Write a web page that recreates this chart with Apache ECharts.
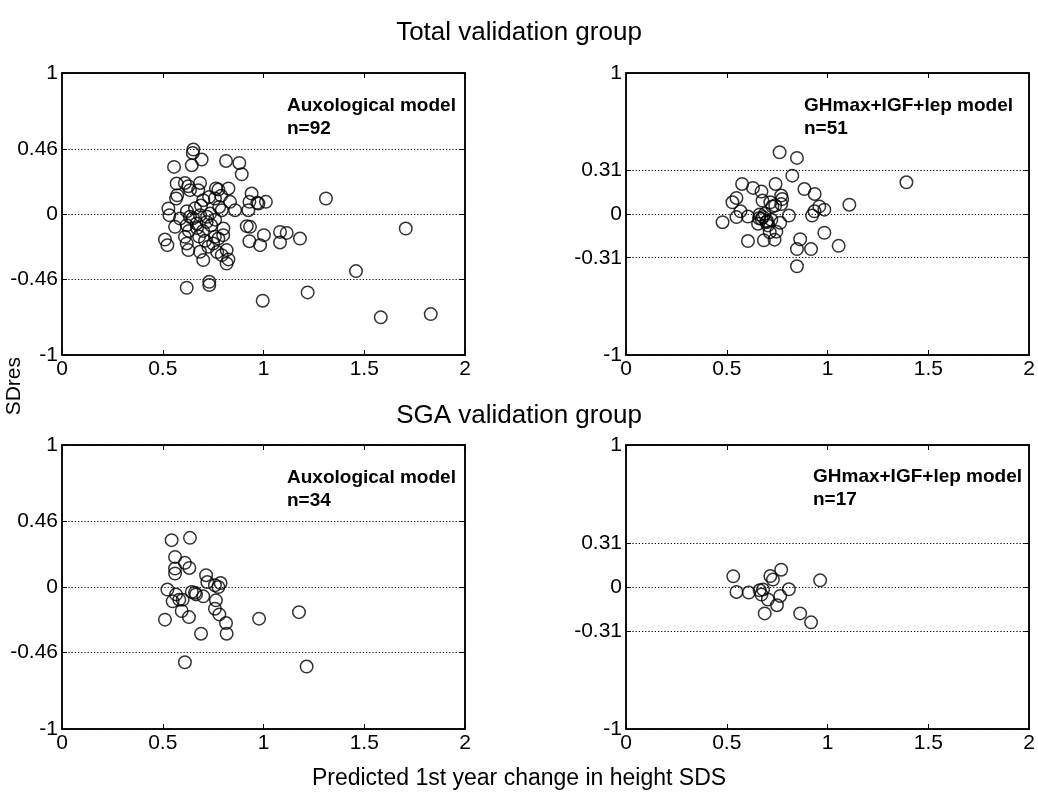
<!DOCTYPE html>
<html>
<head>
<meta charset="utf-8">
<title>SDres validation</title>
<script src="https://cdn.jsdelivr.net/npm/echarts@6/dist/echarts.min.js"></script>
<style>
  html, body { margin: 0; padding: 0; background: #fff; }
  #main { width: 1038px; height: 794px; }
</style>
</head>
<body>
<div id="main"></div>
<script>
// y tick positions for each model
var auxoTicks = [-1, -0.46, 0, 0.46, 1];
var hormTicks = [-1, -0.31, 0, 0.31, 1];

// total group, auxological model (n=92) : [predicted, SDres]
var totalAuxo = [
  [0.652, 0.457], [0.649, 0.433], [0.693, 0.386], [0.556, 0.334], [0.644, 0.346],
  [0.814, 0.376], [0.880, 0.362], [0.892, 0.282], [0.569, 0.216], [0.610, 0.220],
  [0.627, 0.197], [0.685, 0.220], [0.572, 0.133], [0.566, 0.110], [0.635, 0.169],
  [0.676, 0.169], [0.764, 0.181], [0.776, 0.173], [0.826, 0.181], [0.701, 0.098],
  [0.759, 0.110], [0.834, 0.086], [0.941, 0.145], [0.930, 0.086], [0.975, 0.074],
  [1.012, 0.086], [0.528, 0.039], [0.533, -0.008], [0.586, -0.032], [0.635, -0.020],
  [0.685, -0.008], [0.735, 0.003], [0.793, 0.027], [0.859, 0.027], [0.925, 0.027],
  [0.561, -0.091], [0.619, -0.079], [0.668, -0.067], [0.718, -0.056], [0.801, -0.103],
  [0.917, -0.086], [0.511, -0.181], [0.523, -0.221], [0.610, -0.162], [0.619, -0.209],
  [0.627, -0.256], [0.685, -0.268], [0.701, -0.327], [0.726, -0.233], [0.759, -0.162],
  [0.776, -0.174], [0.793, -0.292], [0.817, -0.351], [0.826, -0.322], [0.817, -0.256],
  [0.930, -0.193], [0.983, -0.221], [1.002, -0.150], [0.619, -0.523], [0.731, -0.481],
  [0.731, -0.504], [0.996, -0.615], [0.969, 0.079], [1.310, 0.110], [0.933, -0.091],
  [1.082, -0.127], [1.115, -0.134], [1.082, -0.202], [1.181, -0.174], [1.706, -0.103],
  [1.459, -0.405], [1.219, -0.556], [1.582, -0.733], [1.830, -0.710], [0.650, -0.030],
  [0.670, -0.100], [0.700, -0.120], [0.720, -0.020], [0.740, -0.080], [0.760, -0.040],
  [0.780, 0.050], [0.800, -0.150], [0.660, 0.040], [0.690, 0.060], [0.730, 0.120],
  [0.630, -0.120], [0.710, -0.190], [0.750, -0.210], [0.680, -0.160], [0.790, 0.130],
  [0.620, 0.020], [0.770, -0.270]
];

// total group, GHmax+IGF+lep model (n=51)
var totalHorm = [
  [0.762, 0.438], [0.848, 0.398], [0.825, 0.272], [1.391, 0.225], [0.576, 0.213],
  [0.630, 0.185], [0.672, 0.159], [0.742, 0.213], [0.885, 0.177], [0.936, 0.142],
  [0.548, 0.114], [0.528, 0.083], [0.677, 0.095], [0.716, 0.083], [0.770, 0.131],
  [0.775, 0.106], [0.770, 0.071], [0.726, 0.054], [1.108, 0.066], [0.959, 0.054],
  [0.984, 0.031], [0.935, 0.019], [0.568, 0.019], [0.479, -0.058], [0.548, -0.022],
  [0.605, -0.018], [0.663, -0.004], [0.688, 0.001], [0.672, -0.034], [0.655, -0.069],
  [0.704, -0.081], [0.721, -0.041], [0.765, -0.062], [0.808, -0.011], [0.923, -0.011],
  [0.713, -0.129], [0.746, -0.125], [0.605, -0.192], [0.684, -0.187], [0.737, -0.182],
  [0.864, -0.179], [0.848, -0.249], [0.918, -0.249], [0.984, -0.133], [1.055, -0.226],
  [0.848, -0.371], [0.680, -0.022], [0.696, -0.058], [0.700, -0.050], [0.660, -0.030],
  [0.740, 0.060]
];

// SGA group, auxological model (n=34)
var sgaAuxo = [
  [0.544, 0.330], [0.635, 0.346], [0.561, 0.212], [0.561, 0.130], [0.561, 0.095],
  [0.610, 0.170], [0.632, 0.134], [0.715, 0.083], [0.721, 0.035], [0.759, 0.012],
  [0.787, 0.028], [0.776, 0.000], [0.523, -0.018], [0.566, -0.052], [0.549, -0.101],
  [0.599, -0.089], [0.644, -0.035], [0.665, -0.052], [0.701, -0.066], [0.764, -0.094],
  [0.594, -0.169], [0.630, -0.212], [0.759, -0.153], [0.781, -0.193], [0.814, -0.254],
  [0.817, -0.329], [0.511, -0.230], [0.690, -0.329], [0.978, -0.223], [1.176, -0.177],
  [0.610, -0.530], [1.214, -0.560], [0.582, -0.089], [0.660, -0.040]
];

// SGA group, GHmax+IGF+lep model (n=17)
var sgaHorm = [
  [0.532, 0.075], [0.548, -0.035], [0.609, -0.039], [0.663, -0.023], [0.680, -0.018],
  [0.672, -0.053], [0.704, -0.088], [0.716, 0.077], [0.729, 0.052], [0.770, 0.122],
  [0.963, 0.047], [0.808, -0.016], [0.765, -0.063], [0.749, -0.128], [0.688, -0.186],
  [0.864, -0.186], [0.918, -0.249]
];

var panels = [
  { data: totalAuxo, ticks: auxoTicks, model: 'Auxological model', n: 'n=92' },
  { data: totalHorm, ticks: hormTicks, model: 'GHmax+IGF+lep model', n: 'n=51' },
  { data: sgaAuxo, ticks: auxoTicks, model: 'Auxological model', n: 'n=34' },
  { data: sgaHorm, ticks: hormTicks, model: 'GHmax+IGF+lep model', n: 'n=17' }
];

var font = 'Liberation Sans, Arial, sans-serif';
var grids = [
  { left: 62, top: 73, width: 403, height: 282 },
  { left: 626, top: 73, width: 405, height: 282 },
  { left: 62, top: 445, width: 403, height: 284 },
  { left: 626, top: 445, width: 405, height: 284 }
];
// where the model text sits in each panel
var notePos = [[287, 94], [804, 94], [287, 466], [813, 465]];

var tickStyle = { inside: true, length: 5, lineStyle: { color: '#000', width: 1 } };
var lineStyle = { onZero: false, lineStyle: { color: '#000', width: 1.5 } };

var chart = echarts.init(document.getElementById('main'));

var xAxes = [], yAxes = [];
panels.forEach(function (p, i) {
  xAxes.push({
    type: 'value', gridIndex: i, min: 0, max: 2, interval: 0.5, position: 'bottom',
    axisLine: lineStyle, axisTick: tickStyle,
    axisLabel: { color: '#000', fontFamily: font, fontSize: 21, margin: 4,
      formatter: function (v) { return String(v); } },
    splitLine: { show: false }
  });
  yAxes.push({
    type: 'value', gridIndex: i, min: -1, max: 1, position: 'left',
    axisLine: Object.assign({ show: true }, lineStyle),
    axisTick: Object.assign({ show: true, customValues: p.ticks }, tickStyle),
    axisLabel: { color: '#000', fontFamily: font, fontSize: 21, margin: 4, customValues: p.ticks,
      formatter: function (v) { return String(v); } },
    splitLine: { show: true, lineStyle: { color: '#000', type: [1.2, 2], width: 1 } }
  });
});
// mirrored ticks on the top and right edges of each box
panels.forEach(function (p, i) {
  xAxes.push({
    type: 'value', gridIndex: i, min: 0, max: 2, interval: 0.5, position: 'top',
    axisLine: lineStyle, axisTick: tickStyle, axisLabel: { show: false }, splitLine: { show: false }
  });
  yAxes.push({
    type: 'value', gridIndex: i, min: -1, max: 1, position: 'right',
    axisLine: Object.assign({ show: true }, lineStyle),
    axisTick: Object.assign({ show: true, customValues: p.ticks }, tickStyle),
    axisLabel: { show: false }, splitLine: { show: false }
  });
});

var option = {
  animation: false,
  title: [
    { text: 'Total validation group', left: 'center', top: 15,
      textStyle: { fontFamily: font, fontSize: 26, fontWeight: 'normal', color: '#000' } },
    { text: 'SGA validation group', left: 'center', top: 398,
      textStyle: { fontFamily: font, fontSize: 26, fontWeight: 'normal', color: '#000' } },
    { text: 'Predicted 1st year change in height SDS', left: 'center', top: 762,
      textStyle: { fontFamily: font, fontSize: 23, fontWeight: 'normal', color: '#000' } }
  ],
  grid: grids.map(function (g) {
    return Object.assign({ show: true, borderColor: '#000', borderWidth: 1.5, backgroundColor: '#fff' }, g);
  }),
  xAxis: xAxes,
  yAxis: yAxes,
  series: panels.map(function (p, i) {
    return {
      type: 'scatter', xAxisIndex: i, yAxisIndex: i, data: p.data,
      symbol: 'circle', symbolSize: 12.5,
      itemStyle: { color: 'rgba(0,0,0,0)', borderColor: '#000', borderWidth: 1.5 },
      emphasis: { disabled: true }, silent: true
    };
  }),
  graphic: [
    { type: 'text', left: 4, top: 357, rotation: Math.PI / 2,
      style: { text: 'SDres', fontFamily: font, fontSize: 21, fill: '#000' } }
  ].concat(panels.map(function (p, i) {
    return { type: 'text', left: notePos[i][0], top: notePos[i][1],
      style: { text: p.model + '\n' + p.n, fontFamily: font, fontSize: 19, fontWeight: 'bold',
        fill: '#000', lineHeight: 23 } };
  }))
};

chart.setOption(option);
</script>
</body>
</html>
